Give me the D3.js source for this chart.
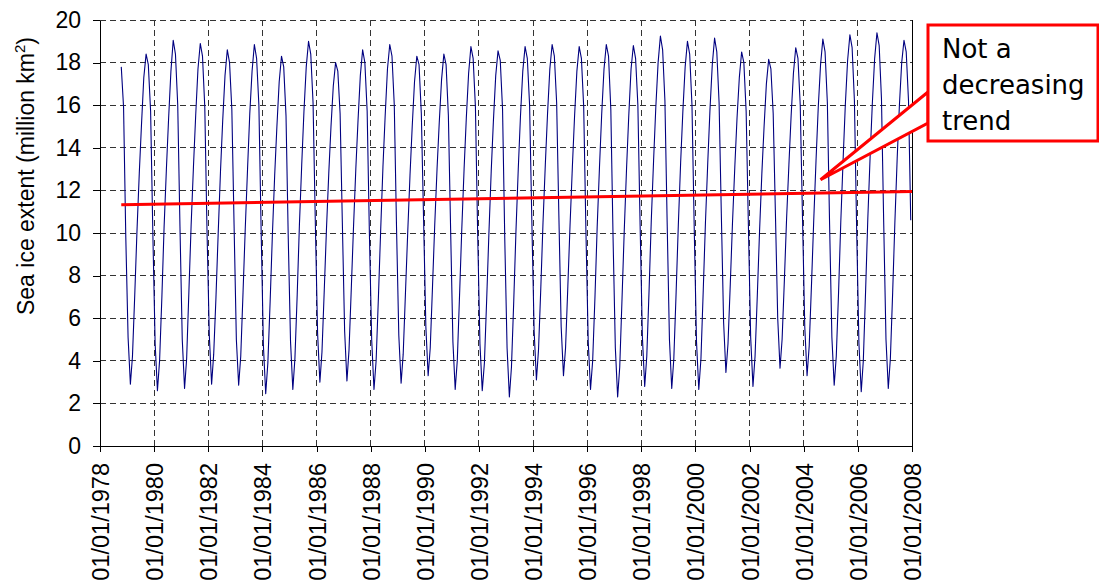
<!DOCTYPE html>
<html>
<head>
<meta charset="utf-8">
<script src="https://cdn.jsdelivr.net/npm/d3@7/dist/d3.min.js"></script>
<style>
  body { margin: 0; background: #ffffff; }
  svg { display: block; }
</style>
</head>
<body>
<div id="chart"></div>
<script>
// monthly sea ice extent (million km2), first value is Oct 1978
var firstMonth = [1978, 9];
var extent = [
  17.8, 15.9, 9.8,
  5.1, 2.9, 4.2, 7.1, 10.1, 12.8, 15.1, 17.3, 18.4, 17.9, 15.7, 10.0,
  4.8, 2.6, 4.0, 7.0, 10.3, 13.0, 15.4, 17.6, 19.05, 18.4, 16.0, 10.3,
  5.0, 2.7, 4.1, 7.3, 10.4, 13.1, 15.5, 17.7, 18.9, 18.3, 15.9, 10.1,
  5.2, 2.9, 4.3, 7.0, 10.0, 12.9, 15.3, 17.4, 18.6, 18.0, 15.8, 10.4,
  5.0, 2.85, 4.2, 7.2, 10.2, 13.0, 15.6, 17.6, 18.85, 18.2, 16.0, 10.2,
  4.7, 2.45, 3.9, 6.8, 9.9, 12.7, 15.0, 17.1, 18.3, 17.8, 15.5, 9.8,
  4.9, 2.65, 4.1, 7.1, 10.4, 13.2, 15.7, 17.8, 19.0, 18.4, 16.1, 10.6,
  5.3, 3.0, 4.4, 7.3, 10.2, 12.8, 15.0, 16.9, 18.0, 17.6, 15.6, 10.5,
  5.4, 3.05, 4.5, 7.4, 10.3, 13.0, 15.3, 17.4, 18.6, 18.0, 15.7, 10.0,
  5.0, 2.65, 4.0, 7.0, 10.1, 13.1, 15.5, 17.7, 18.85, 18.3, 16.0, 10.3,
  5.2, 2.95, 4.3, 7.2, 10.0, 12.7, 15.0, 17.1, 18.3, 17.9, 15.6, 10.7,
  5.6, 3.3, 4.6, 7.5, 10.4, 13.0, 15.2, 17.2, 18.4, 17.9, 15.5, 10.2,
  4.9, 2.65, 4.0, 7.1, 10.2, 13.0, 15.4, 17.5, 18.75, 18.2, 15.9, 10.0,
  4.8, 2.6, 3.9, 6.9, 10.0, 12.9, 15.3, 17.4, 18.55, 18.1, 15.8, 9.7,
  4.6, 2.3, 3.7, 6.8, 10.1, 13.0, 15.5, 17.6, 18.75, 18.2, 16.0, 10.6,
  5.4, 3.1, 4.5, 7.4, 10.5, 13.2, 15.6, 17.7, 18.85, 18.3, 16.1, 10.8,
  5.6, 3.3, 4.6, 7.5, 10.4, 13.1, 15.5, 17.6, 18.75, 18.2, 15.9, 10.1,
  4.9, 2.65, 4.0, 7.0, 10.3, 13.1, 15.6, 17.7, 18.85, 18.3, 15.8, 9.8,
  4.6, 2.3, 3.7, 6.9, 10.1, 13.0, 15.5, 17.7, 18.8, 18.2, 16.0, 10.4,
  5.1, 2.8, 4.2, 7.3, 10.6, 13.4, 15.9, 18.0, 19.25, 18.6, 16.2, 10.5,
  5.0, 2.7, 4.1, 7.2, 10.4, 13.3, 15.7, 17.8, 19.0, 18.4, 16.0, 10.3,
  4.9, 2.65, 4.1, 7.3, 10.5, 13.3, 15.8, 17.9, 19.15, 18.5, 16.1, 10.9,
  5.8, 3.45, 4.8, 7.6, 10.5, 13.1, 15.4, 17.3, 18.5, 18.0, 15.7, 10.4,
  5.1, 2.8, 4.2, 7.1, 10.1, 12.8, 15.0, 17.0, 18.15, 17.7, 15.6, 10.9,
  6.0, 3.65, 5.0, 7.8, 10.7, 13.2, 15.5, 17.5, 18.7, 18.2, 16.0, 10.8,
  5.6, 3.3, 4.7, 7.6, 10.6, 13.4, 15.9, 17.9, 19.1, 18.5, 16.1, 10.4,
  5.1, 2.85, 4.2, 7.2, 10.5, 13.4, 16.0, 18.1, 19.3, 18.7, 16.2, 10.2,
  4.8, 2.55, 4.0, 7.3, 10.7, 13.6, 16.1, 18.2, 19.4, 18.8, 16.3, 10.5,
  5.0, 2.7, 4.1, 7.2, 10.5, 13.5, 16.0, 18.0, 19.05, 18.5, 16.2, 10.6
];

var yTicks = [0, 2, 4, 6, 8, 10, 12, 14, 16, 18, 20];
var xTickYears = [1978, 1980, 1982, 1984, 1986, 1988, 1990, 1992, 1994, 1996, 1998, 2000, 2002, 2004, 2006, 2008];

// red trend line: [year, month, day, value]
var trendStart = [1978, 9, 15, 11.33];
var trendEnd = [2008, 0, 1, 11.95];

var calloutLines = ["Not a", "decreasing", "trend"];
var calloutTip = [2004, 7, 15, 12.5];

var width = 1099, height = 583;
var plot = { left: 100, right: 912, top: 20, bottom: 446 };

var svg = d3.select("#chart").append("svg")
    .attr("width", width)
    .attr("height", height);

var x = d3.scaleTime()
    .domain([new Date(1978, 0, 1), new Date(2008, 0, 1)])
    .range([plot.left, plot.right]);

var y = d3.scaleLinear()
    .domain([0, 20])
    .range([plot.bottom, plot.top]);

var points = extent.map(function (v, i) {
    return { date: new Date(firstMonth[0], firstMonth[1] + i, 15), value: v };
});

// gridlines
var grid = svg.append("g").attr("shape-rendering", "crispEdges");

grid.selectAll("line.h")
    .data(yTicks.slice(1))
    .enter().append("line")
    .attr("x1", plot.left).attr("x2", plot.right)
    .attr("y1", function (d) { return y(d); })
    .attr("y2", function (d) { return y(d); })
    .attr("stroke", "#333")
    .attr("stroke-dasharray", "6,4");

grid.selectAll("line.v")
    .data(xTickYears.slice(1, -1))
    .enter().append("line")
    .attr("x1", function (d) { return x(new Date(d, 0, 1)); })
    .attr("x2", function (d) { return x(new Date(d, 0, 1)); })
    .attr("y1", plot.top).attr("y2", plot.bottom)
    .attr("stroke", "#333")
    .attr("stroke-dasharray", "6,4");

// right border
grid.append("line")
    .attr("x1", plot.right).attr("x2", plot.right)
    .attr("y1", plot.top).attr("y2", plot.bottom)
    .attr("stroke", "#000");

// data line
var line = d3.line()
    .x(function (d) { return x(d.date); })
    .y(function (d) { return y(d.value); });

svg.append("path")
    .datum(points)
    .attr("d", line)
    .attr("fill", "none")
    .attr("stroke", "#000080")
    .attr("stroke-width", 1.1)
    .attr("stroke-linejoin", "round");

// axes
var yAxis = d3.axisLeft(y)
    .tickValues(yTicks)
    .tickSize(7)
    .tickSizeOuter(0)
    .tickPadding(12);

var gy = svg.append("g")
    .attr("transform", "translate(" + plot.left + ",0)")
    .attr("shape-rendering", "crispEdges")
    .call(yAxis);

var xAxis = d3.axisBottom(x)
    .tickValues(xTickYears.map(function (d) { return new Date(d, 0, 1); }))
    .tickFormat(d3.timeFormat("%d/%m/%Y"))
    .tickSize(6)
    .tickSizeOuter(0);

var gx = svg.append("g")
    .attr("transform", "translate(0," + plot.bottom + ")")
    .attr("shape-rendering", "crispEdges")
    .call(xAxis);

svg.selectAll(".domain, .tick line").attr("stroke", "#000");
svg.selectAll(".tick text")
    .attr("font-family", "'Liberation Sans', Arial, sans-serif")
    .attr("font-size", 23)
    .attr("fill", "#000");

gx.selectAll(".tick text")
    .attr("font-size", 23.5)
    .attr("text-anchor", "end")
    .attr("transform", "rotate(-90)")
    .attr("x", -17)
    .attr("y", 0)
    .attr("dy", "0.36em");

// y axis title
var title = svg.append("text")
    .attr("transform", "translate(34,176) rotate(-90)")
    .attr("text-anchor", "middle")
    .attr("font-family", "'Liberation Sans', Arial, sans-serif")
    .attr("font-size", 23)
    .attr("fill", "#000");
title.append("tspan").text("Sea ice extent (million km");
title.append("tspan").attr("font-size", 15).attr("dy", -9).text("2");
title.append("tspan").attr("dy", 9).text(")");

// trend line
svg.append("line")
    .attr("x1", x(new Date(trendStart[0], trendStart[1], trendStart[2])))
    .attr("y1", y(trendStart[3]))
    .attr("x2", x(new Date(trendEnd[0], trendEnd[1], trendEnd[2])))
    .attr("y2", y(trendEnd[3]))
    .attr("stroke", "#ff0000")
    .attr("stroke-width", 3);

// callout
var box = { left: 928, top: 25, right: 1098, bottom: 141 };
var tipX = x(new Date(calloutTip[0], calloutTip[1], calloutTip[2]));
var tipY = y(calloutTip[3]);

svg.append("path")
    .attr("d", "M" + box.left + ",92 L" + tipX + "," + tipY + " L" + box.left + ",123 Z")
    .attr("fill", "#fff")
    .attr("stroke", "#ff0000")
    .attr("stroke-width", 3)
    .attr("stroke-linejoin", "miter");

svg.append("rect")
    .attr("x", box.left).attr("y", box.top)
    .attr("width", box.right - box.left)
    .attr("height", box.bottom - box.top)
    .attr("fill", "#fff")
    .attr("stroke", "#ff0000")
    .attr("stroke-width", 3);

svg.selectAll("text.callout")
    .data(calloutLines)
    .enter().append("text")
    .attr("class", "callout")
    .attr("x", 942)
    .attr("y", function (d, i) { return 58 + i * 36; })
    .attr("font-family", "'DejaVu Sans', Verdana, sans-serif")
    .attr("font-size", 26)
    .attr("fill", "#000")
    .text(function (d) { return d; });
</script>
</body>
</html>
